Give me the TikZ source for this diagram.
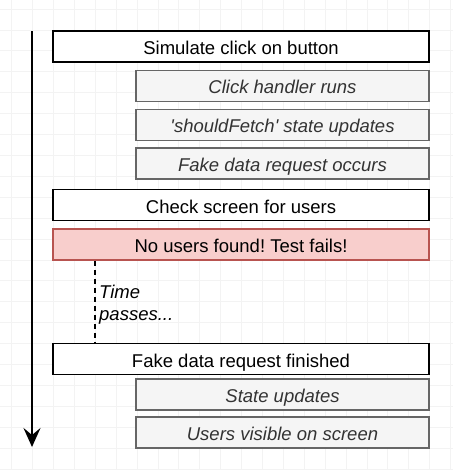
\documentclass[tikz,border=0pt]{standalone}
\usepackage{fontspec}
\setmainfont{Liberation Sans}
\usetikzlibrary{arrows.meta}
\definecolor{gridgray}{HTML}{F3F3F3}
\definecolor{subfill}{HTML}{F5F5F5}
\definecolor{substroke}{HTML}{666666}
\definecolor{subtext}{HTML}{333333}
\definecolor{failfill}{HTML}{F8CECC}
\definecolor{failstroke}{HTML}{B85450}
\frenchspacing
\begin{document}
\begin{tikzpicture}[x=1pt, y=-1pt,
  every node/.style={font=\fontsize{18.5}{22}\selectfont, inner sep=0pt},
  mainbox/.style={draw, line width=1.8pt, fill=white, minimum width=376pt, minimum height=31pt, text height=16pt, text depth=0pt},
  subbox/.style={draw=substroke, line width=1.8pt, fill=subfill, text=subtext, minimum width=293pt, minimum height=31pt, text height=16pt, text depth=0pt, font=\fontsize{18.5}{22}\selectfont\itshape},
  failbox/.style={mainbox, draw=failstroke, fill=failfill}]
\useasboundingbox (0,0) rectangle (453,470);
% Background grid
\foreach \i in {0,...,21}
    \draw[gridgray, line width=0.6pt] (11.5+20.9*\i, 0) -- (11.5+20.9*\i, 470);
\foreach \j in {0,...,22}
    \draw[gridgray, line width=0.6pt] (0, 9+20.9*\j) -- (453, 9+20.9*\j);
% Time axis
\coordinate (start) at (32, 31);
\coordinate (end) at (32, 447);
\draw[line width=2pt, -{Stealth[length=19pt, width=17pt, inset=7pt]}] (start) -- (end);
% Test steps
\node[mainbox] (click) at (241, 46.5) {Simulate click on button};
\node[subbox] (handler) at (282.5, 86) {Click handler runs};
\node[subbox] (state) at (282.5, 125) {\textquotesingle shouldFetch\textquotesingle\ state updates};
\node[subbox] (request) at (282.5, 163.5) {Fake data request occurs};
\node[mainbox] (check) at (241, 205) {Check screen for users};
\node[failbox] (fail) at (241, 244.5) {No users found! Test fails!};
% Later on
\node[anchor=west, align=left, inner xsep=4pt, font=\fontsize{18.5}{22}\selectfont\itshape] (time) at (95, 305) {Time\\passes...};
\node[mainbox] (finish) at (241, 359) {Fake data request finished};
\node[subbox] (update) at (282.5, 394.5) {State updates};
\node[subbox] (users) at (282.5, 432.5) {Users visible on screen};
\draw[line width=1.8pt, dash pattern=on 5pt off 4pt] (fail.south -| time.west) -- (finish.north -| time.west);
\end{tikzpicture}
\end{document}
